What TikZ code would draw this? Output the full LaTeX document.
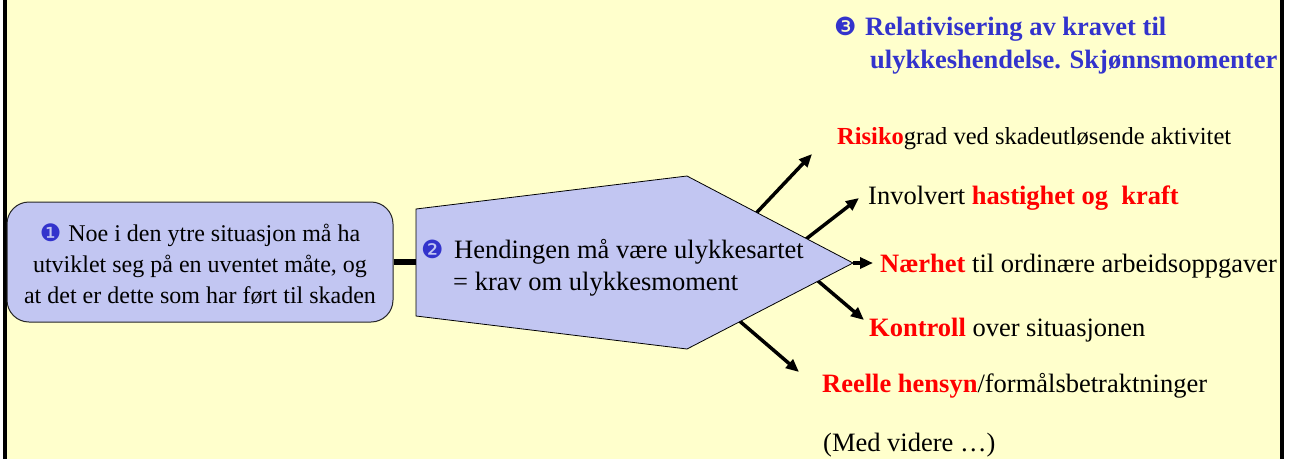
\documentclass[tikz,border=0pt]{standalone}
\usepackage{fontspec}
\setmainfont{Liberation Serif}
\newfontfamily\dingfont{DejaVu Sans}
\usetikzlibrary{arrows.meta,calc}
\definecolor{bgyellow}{RGB}{255,255,204}
\definecolor{lav}{RGB}{194,198,242}
\definecolor{hblue}{RGB}{51,51,204}
\definecolor{hred}{RGB}{255,0,0}
\newcommand\rk[1]{\textcolor{hred}{\bfseries #1}}
\tikzset{
  txt/.style={inner sep=0pt, anchor=base west, font=\fontsize{26.5}{32}\selectfont},
  arr/.style={line width=3.5pt, -{Triangle[length=13pt,width=11pt]}},
  boxone/.style={draw=black!85, line width=1pt, fill=lav, rounded corners=22pt,
    minimum width=386pt, minimum height=120pt, inner sep=0pt},
  penta/.style={draw=black, line width=0.8pt, fill=lav},
  link/.style={line width=6pt}
}
\begin{document}
\begin{tikzpicture}[x=1pt,y=-1pt]
\useasboundingbox (0,0) rectangle (1294,459);
\fill[white] (0,0) rectangle (1294,459);
\fill[bgyellow] (5,0) rectangle (1281.5,459);
\draw[line width=3.6pt] (5,0) -- (5,459);
\draw[line width=4pt] (1281.5,0) -- (1281.5,459);

% pentagon vertices
\coordinate (p1) at (416,209);
\coordinate (ptop) at (687,176);
\coordinate (tip) at (853,263);
\coordinate (pbot) at (687,349);
\coordinate (p5) at (416,316);
\coordinate (pl) at (416,262);

% arrow start points on the pentagon edges and free ends
\coordinate (s1) at ($(ptop)!0.42!(tip)$);
\coordinate (s2) at ($(ptop)!0.72!(tip)$);
\coordinate (s4) at ($(tip)!0.21!(pbot)$);
\coordinate (s5) at ($(tip)!0.68!(pbot)$);
\coordinate (e1) at (812,154);
\coordinate (e2) at (859,198);
\coordinate (e3) at (873,263);
\coordinate (e4) at (864,320);
\coordinate (e5) at (799,372);

\draw[arr] ($(s1)!-8pt!(e1)$) -- (e1);
\draw[arr] ($(s2)!-8pt!(e2)$) -- (e2);
\draw[arr] (tip) -- (e3);
\draw[arr] ($(s4)!-8pt!(e4)$) -- (e4);
\draw[arr] ($(s5)!-8pt!(e5)$) -- (e5);

\draw[penta] (p1) -- (ptop) -- (tip) -- (pbot) -- (p5) -- cycle;

% box 1
\node[boxone] (b1) at (200,262) {};
\draw[link] (b1.east) -- (pl);

\node[inner sep=0pt, anchor=base, align=center, font=\fontsize{24}{31}\selectfont] (t1) at (200,303)
  {{\dingfont\fontsize{24}{31}\selectfont\color{hblue}❶}\hspace{1pt} Noe i den ytre situasjon må ha\\
   utviklet seg på en uventet måte, og\\
   at det er dette som har ført til skaden};

\node[txt, align=left] (t2) at (421,290)
  {\makebox[33pt][l]{\dingfont\fontsize{25}{32}\selectfont\color{hblue}❷}Hendingen må være ulykkesartet\\
   \hspace*{32pt}= krav om ulykkesmoment};

\node[txt, align=left, font=\bfseries\fontsize{26.5}{33}\selectfont, text=hblue] (h3) at (834,68)
  {\makebox[31pt][l]{\dingfont\mdseries\fontsize{25}{33}\selectfont ❸}Relativisering av kravet til\\
   \hspace*{36pt}ulykkeshendelse. Skjønnsmomenter};

\node[txt, font=\fontsize{24.5}{30}\selectfont] (r1) at (837,144) {\rk{Risiko}grad ved skadeutløsende aktivitet};
\node[txt] (r2) at (868,204) {Involvert \rk{hastighet og~~kraft}};
\node[txt] (r3) at (880,272) {\rk{Nærhet} til ordinære arbeidsoppgaver};
\node[txt] (r4) at (869,336) {\rk{Kontroll} over situasjonen};
\node[txt] (r5) at (822,392) {\rk{Reelle hensyn}/formålsbetraktninger};
\node[txt] (r6) at (823,451) {(Med videre …)};
\end{tikzpicture}
\end{document}
